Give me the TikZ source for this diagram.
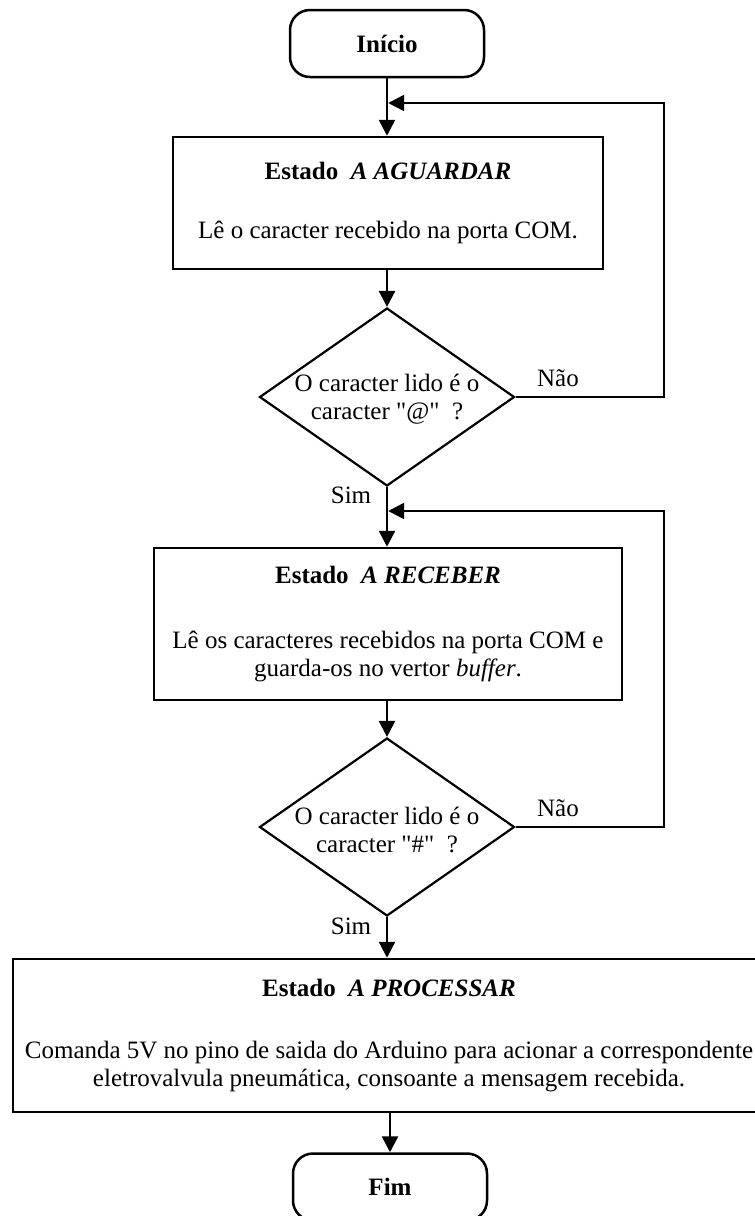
\documentclass[tikz,border=0pt]{standalone}
\usepackage{fontspec}
\setmainfont{Liberation Serif}[Ligatures=TeXOff]
\usetikzlibrary{shapes.geometric,arrows.meta}

\begin{document}
\begin{tikzpicture}[x=1pt,y=-1pt,
  line width=2.5pt,
  every node/.style={font=\fontsize{25}{28}\selectfont},
  terminal/.style={draw, rounded corners=20pt, minimum width=194pt,
    minimum height=67pt, inner sep=0pt},
  procbox/.style={draw, align=center, inner sep=0pt},
  decision/.style={draw, diamond, inner sep=0pt, line width=2.2pt,
    minimum width=255pt, minimum height=178pt},
  dtext/.style={align=center, inner sep=0pt},
  lbl/.style={inner sep=0pt},
  flow/.style={-{Triangle[length=16pt,width=16pt]}},
  link/.style={line join=miter}
]
% page area
\useasboundingbox (0,0) rectangle (755,1216);
\clip (0,0) rectangle (755,1216);
\fill[white] (0,0) rectangle (755,1216);

% terminals
\node[terminal] (start) at (387,43.5) {\textbf{Início}};
\node[terminal] (fim) at (390,1187) {\textbf{Fim}};

% state boxes
\node[procbox, minimum width=430pt, minimum height=132pt] (s1) at (388,203)
  {\textbf{Estado\ \ \textit{A AGUARDAR}}\\[31pt]
   Lê o caracter recebido na porta COM.};
\node[procbox, minimum width=468pt, minimum height=152pt] (s2) at (388,624)
  {\textbf{Estado\ \ \textit{A RECEBER}}\\[37pt]
   Lê os caracteres recebidos na porta COM e\\
   guarda-os no vertor \textit{buffer}.};
\node[procbox, minimum width=752pt, minimum height=153pt] (s3) at (389,1035.5)
  {\textbf{Estado\ \ \textit{A PROCESSAR}}\\[34pt]
   Comanda 5V no pino de saida do Arduino para acionar a correspondente\\
   eletrovalvula pneumática, consoante a mensagem recebida.};

% decisions
\node[decision] (d1) at (387,397) {};
\node[dtext] (d1t) at (387,399) {O caracter lido é o\\caracter "@"\ \ ?};
\node[decision] (d2) at (387,827) {};
\node[dtext] (d2t) at (387,830) {O caracter lido é o\\caracter "\#"\ \ ?};

% branch labels
\node[lbl] (n1) at (558,378) {Não};
\node[lbl] (y1) at (351,495) {Sim};
\node[lbl] (n2) at (558,808) {Não};
\node[lbl] (y2) at (351,926) {Sim};

% loop return points
\coordinate (j1) at (387,103);
\coordinate (j2) at (387,511);
\coordinate (r1) at (664,397);
\coordinate (r2) at (664,827);

% main flow
\draw[flow] (start.south) -- (s1.north -| start.south);
\draw[flow] (s1.south -| d1.north) -- (d1.north);
\draw[flow] (d1.south) -- (s2.north -| d1.south);
\draw[flow] (s2.south -| d2.north) -- (d2.north);
\draw[flow] (d2.south) -- (s3.north -| d2.south);
\draw[flow] (s3.south -| fim.north) -- (fim.north);

% "Não" loops
\draw[flow, link, shorten >=1.2pt] (d1.east) -- (r1) -- (r1 |- j1) -- (j1);
\draw[flow, link, shorten >=1.2pt] (d2.east) -- (r2) -- (r2 |- j2) -- (j2);
\end{tikzpicture}
\end{document}
